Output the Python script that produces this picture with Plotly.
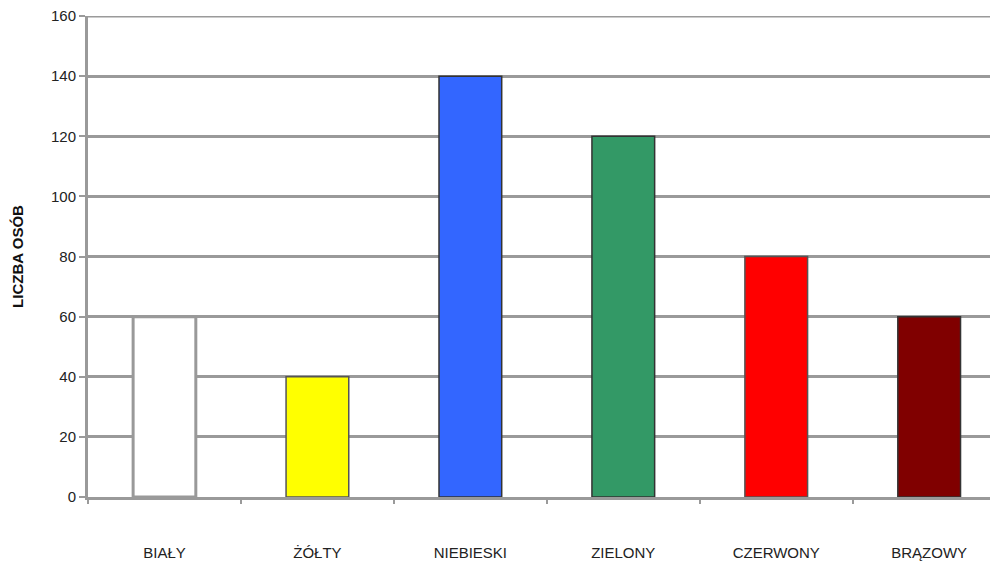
import plotly.graph_objects as go

categories = ["BIAŁY", "ŻÓŁTY", "NIEBIESKI", "ZIELONY", "CZERWONY", "BRĄZOWY"]
values = [60, 40, 140, 120, 80, 60]
colors = ["#ffffff", "#ffff00", "#3366ff", "#339966", "#ff0000", "#800000"]
line_colors = ["#999999", "#555555", "#333333", "#333333", "#555555", "#333333"]
line_widths = [3, 1.5, 1.5, 1.5, 1.5, 1.5]
y_ticks = [0, 20, 40, 60, 80, 100, 120, 140, 160]

fig = go.Figure(go.Bar(
    x=categories, y=values,
    marker=dict(color=colors, line=dict(color=line_colors, width=line_widths)),
    width=0.41,
))

# page body has an 8px margin, so margins are compensated
fig.update_layout(
    width=998, height=569,
    margin=dict(l=80, r=8, t=8, b=80),
    plot_bgcolor="white", paper_bgcolor="white",
    showlegend=False,
    font=dict(family="Liberation Sans, Arial, sans-serif", size=15, color="#222222"),
)
fig.update_yaxes(
    automargin=False,
    range=[0, 160], tickvals=y_ticks,
    ticklabeloverflow="allow",
    showgrid=True, gridcolor="#9a9a9a", gridwidth=3,
    showline=True, linecolor="#9a9a9a", linewidth=3,
    ticks="outside", ticklen=6, tickcolor="#9a9a9a", tickwidth=2,
    tickfont=dict(size=15, color="#222222"),
    zeroline=False,
    title=dict(text="<b>LICZBA OSÓB</b>", font=dict(size=15, color="#111111"), standoff=24),
)
fig.update_xaxes(
    automargin=False,
    range=[-0.5, 5.45],
    showgrid=False,
    showline=True, linecolor="#9a9a9a", linewidth=3,
    ticks="outside", ticklen=4, tickcolor="#9a9a9a", tickwidth=2,
    tickson="boundaries",
    ticklabelstandoff=40,
    tickfont=dict(family="Liberation Sans Narrow, Liberation Sans, Arial, sans-serif", size=15, color="#222222"),
)
# top border line at the 160 level, as in the reference
fig.add_hline(y=160, line=dict(color="#9a9a9a", width=3))

fig.write_html("out.html")
